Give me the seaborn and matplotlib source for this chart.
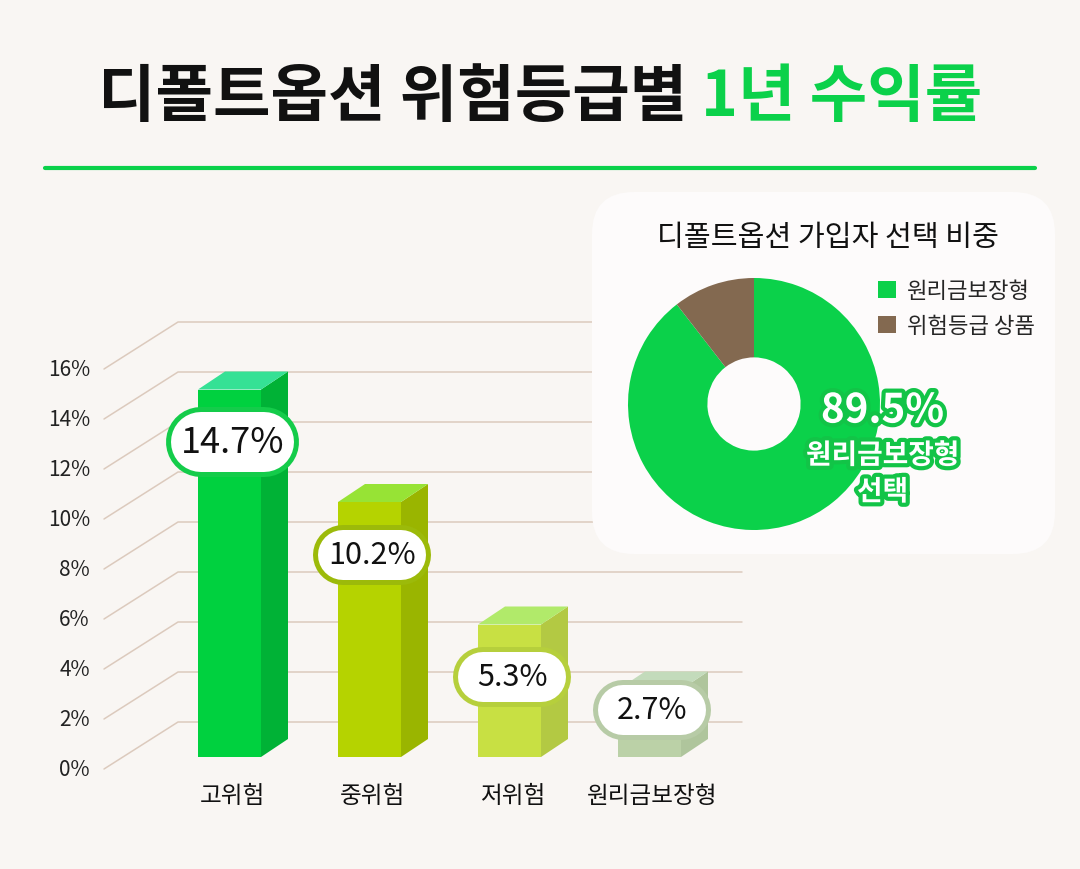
import matplotlib
matplotlib.use('Agg')
import matplotlib.pyplot as plt
import matplotlib.patheffects as pe
from matplotlib.patches import Polygon, FancyBboxPatch
from matplotlib.lines import Line2D
import pandas as pd
import seaborn as sns

# --- data ---
categories = ['고위험', '중위험', '저위험', '원리금보장형']
returns = [14.7, 10.2, 5.3, 2.7]
value_labels = ['14.7%', '10.2%', '5.3%', '2.7%']
y_ticks = [0, 2, 4, 6, 8, 10, 12, 14, 16]

share_labels = ['원리금보장형', '위험등급 상품']
share_values = [89.5, 10.5]
share_text = '89.5%'

# --- styles ---
front_colors = ['#00d13f', '#b5d300', '#c8e043', '#bbd1a7']
side_colors = ['#00b236', '#9ab500', '#b3c943', '#afc59c']
top_colors = ['#35e195', '#97e335', '#b1ea6a', '#c3dbbb']
edge_colors = ['#14cc4a', '#9cba0a', '#b6cf3c', '#b7cba6']

BG = '#f9f6f3'
GREEN = '#0bd14a'
BROWN = '#836950'
GRID = '#dccabd'

W, H = 1080, 870
PT = 72 / 100  # points per pixel

sns.set_theme(style='white')
plt.rcParams['font.family'] = ['Noto Sans CJK KR', 'DejaVu Sans']

fig = plt.figure(figsize=(10.8, 8.7), dpi=100, facecolor=BG)

# bar axes cover the figure: x in category units, y in percent
X0, DX = 229.5, 140.0   # px of first bar centre, px per category
Y0, DY = 758.0, 25.0    # px of 0% on bar face, px per percent
ax = fig.add_axes([0, 0, 1, 1], zorder=1)

df = pd.DataFrame({'cat': categories, 'ret': returns})
sns.barplot(data=df, x='cat', y='ret', hue='cat', palette=front_colors,
            width=0.45, saturation=1, legend=False, ax=ax, zorder=3, linewidth=0)

ax.set_xlim((0 - X0) / DX, (W - X0) / DX)
ax.set_ylim((Y0 - H) / DY, Y0 / DY)
ax.axis('off')

# oblique grid
FX, FDY = (104 - X0) / DX, (Y0 - 770) / DY
BX, BDY = (178 - X0) / DX, (Y0 - 723) / DY
RX = (742 - X0) / DX
for v in y_ticks:
    ax.plot([FX, BX, RX], [v + FDY, v + BDY, v + BDY], color=GRID, lw=1.1, zorder=1)
    ax.text((90 - X0) / DX, v + FDY, f'{v}%', ha='right', va='center',
            fontsize=15, color='#222222')

# 3d faces
ddx, ddy = 27 / DX, 18 / DY
for i, bar in enumerate(ax.patches[:len(returns)]):
    x0 = bar.get_x()
    x1 = x0 + bar.get_width()
    h = bar.get_height()
    ax.add_patch(Polygon([(x1, 0), (x1 + ddx, ddy), (x1 + ddx, h + ddy), (x1, h)],
                         closed=True, fc=side_colors[i], ec='none', zorder=3))
    ax.add_patch(Polygon([(x0, h), (x1, h), (x1 + ddx, h + ddy), (x0 + ddx, h + ddy)],
                         closed=True, fc=top_colors[i], ec='none', zorder=3))

# value pills (round-capped thick lines give a stadium shape)
for i, (v, lab) in enumerate(zip(returns, value_labels)):
    big = i == 0
    pw, ph = (133, 70) if big else (118, 60)
    border = 5
    ly = max(v - 2.1, 1.9)
    cx = i + 0.02
    half = (pw - ph) / 2 / DX
    ax.plot([cx - half, cx + half], [ly, ly], color=edge_colors[i], lw=ph * PT,
            solid_capstyle='round', zorder=5)
    ax.plot([cx - half, cx + half], [ly, ly], color='white', lw=(ph - 2 * border) * PT,
            solid_capstyle='round', zorder=5)
    ax.text(cx, ly, lab, ha='center', va='center', fontsize=26 if big else 22,
            color='#111111', zorder=6)

for i, cat in enumerate(categories):
    ax.text(i + 0.02, (Y0 - 797) / DY, cat, ha='center', va='center',
            fontsize=17, color='#111111')

# title
ty = 1 - 97 / H
t1 = fig.text(0, ty, '디폴트옵션 위험등급별 ', fontsize=45, weight='black',
              va='center', color='#111111')
t2 = fig.text(0, ty, '1년 수익률', fontsize=45, weight='black', va='center', color=GREEN)
rend = fig.canvas.get_renderer()
w1 = t1.get_window_extent(rend).width
w2 = t2.get_window_extent(rend).width
xs = (W - w1 - w2) / 2
t1.set_x(xs / W)
t2.set_x((xs + w1) / W)

fig.add_artist(Line2D([45 / W, 1035 / W], [1 - 169 / H] * 2, transform=fig.transFigure,
                      color=GREEN, lw=3))

# pie card
card = FancyBboxPatch((5.92, (H - 555) / 100), 4.63, 3.62,
                      boxstyle='round,pad=0,rounding_size=0.42',
                      transform=fig.dpi_scale_trans, fc='#fdfbfb', ec='none', zorder=2)
fig.add_artist(card)
fig.text(828 / W, 1 - 238 / H, '디폴트옵션 가입자 선택 비중', ha='center', va='center',
         fontsize=21, color='#111111', zorder=4)

R = 126
pax = fig.add_axes([(754 - R) / W, (H - 405 - R) / H, 2 * R / W, 2 * R / H], zorder=3)
wedges, _ = pax.pie(share_values, colors=[GREEN, BROWN], startangle=90, counterclock=False,
                    radius=1, wedgeprops=dict(width=0.63, linewidth=0))
pax.set_xlim(-1, 1)
pax.set_ylim(-1, 1)
pax.axis('off')

stroke = [pe.withStroke(linewidth=6, foreground='#12c447')]
pax.text(1.02, -0.056, share_text, ha='center', va='center', fontsize=29, weight='black',
         color='white', path_effects=stroke, clip_on=False)
pax.text(1.02, -0.41, share_labels[0], ha='center', va='center', fontsize=20, weight='bold',
         color='white', path_effects=stroke, clip_on=False)
pax.text(1.02, -0.70, '선택', ha='center', va='center', fontsize=20, weight='bold',
         color='white', path_effects=stroke, clip_on=False)

fig.legend(wedges, share_labels, loc='upper left', bbox_to_anchor=(878 / W, 1 - 280 / H),
           frameon=False, fontsize=16, handlelength=0.8, handleheight=0.8,
           handletextpad=0.5, labelspacing=0.55, borderaxespad=0, borderpad=0)

fig.savefig('out.png', dpi=100, facecolor=BG)
